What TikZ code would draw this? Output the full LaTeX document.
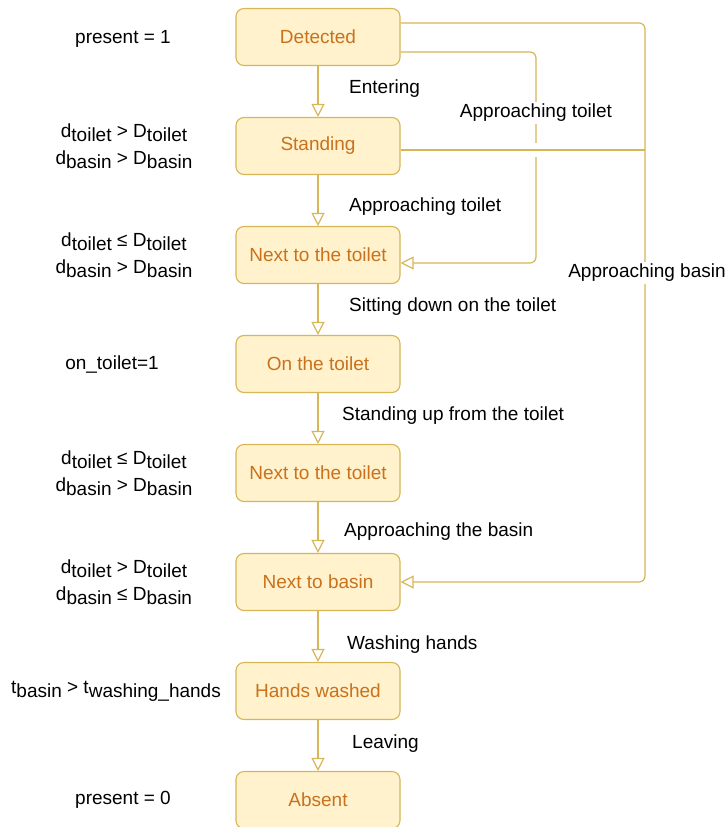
\documentclass[tikz,border=0pt]{standalone}
\usepackage{fontspec}
\setmainfont{Liberation Sans}
\usetikzlibrary{arrows.meta,calc}
\definecolor{boxfill}{HTML}{FFF2CC}
\definecolor{boxline}{HTML}{D6B656}
\definecolor{boxtext}{HTML}{C9711D}
\newcommand{\sbx}[1]{\raisebox{-4pt}{#1}}
\begin{document}
\begin{tikzpicture}[x=1pt,y=-1pt,
  every node/.style={font=\fontsize{19}{27}\selectfont, inner sep=1pt},
  state/.style={draw=boxline, fill=boxfill, line width=1.1pt, rounded corners=8pt,
    minimum width=164pt, minimum height=57pt, text=boxtext},
  edge/.style={draw=boxline, line width=1.2pt, rounded corners=6pt,
    -{Triangle[open, length=13pt, width=13pt, line width=1.2pt]}},
  plain/.style={draw=boxline, line width=1.2pt, rounded corners=6pt},
  cond/.style={align=center, text=black},
  lbl/.style={anchor=west, text=black}]
\useasboundingbox (0,0) rectangle (727,827);

% states
\node[state] (det) at (318,37) {Detected};
\node[state] (std) at (318,146) {Standing};
\node[state] (nt1) at (318,255) {Next to the toilet};
\node[state] (ont) at (318,364) {On the toilet};
\node[state] (nt2) at (318,473) {Next to the toilet};
\node[state] (nb)  at (318,582) {Next to basin};
\node[state] (hw)  at (318,691) {Hands washed};
\node[state] (abs) at (318,800) {Absent};

% conditions
\node[cond] (c1) at (123,39) {present = 1};
\node[cond] (c2) at (124,146) {d\sbx{toilet} > D\sbx{toilet}\\d\sbx{basin} > D\sbx{basin}};
\node[cond] (c3) at (124,255) {d\sbx{toilet} ≤ D\sbx{toilet}\\d\sbx{basin} > D\sbx{basin}};
\node[cond] (c4) at (112,364) {on\_toilet=1};
\node[cond] (c5) at (124,473) {d\sbx{toilet} ≤ D\sbx{toilet}\\d\sbx{basin} > D\sbx{basin}};
\node[cond] (c6) at (124,582) {d\sbx{toilet} > D\sbx{toilet}\\d\sbx{basin} ≤ D\sbx{basin}};
\node[cond] (c7) at (116,691) {t\sbx{basin} > t\sbx{washing\_hands}};
\node[cond] (c8) at (123,800) {present = 0};

% vertical transitions
\draw[edge] (det) -- (std);
\draw[edge] (std) -- (nt1);
\draw[edge] (nt1) -- (ont);
\draw[edge] (ont) -- (nt2);
\draw[edge] (nt2) -- (nb);
\draw[edge] (nb) -- (hw);
\draw[edge] (hw) -- (abs);

\node[lbl] (l1) at (348,89) {Entering};
\node[lbl] (l2) at (348,207) {Approaching toilet};
\node[lbl] (l3) at (348,307) {Sitting down on the toilet};
\node[lbl] (l4) at (341,416) {Standing up from the toilet};
\node[lbl] (l5) at (343,532) {Approaching the basin};
\node[lbl] (l6) at (346,645) {Washing hands};
\node[lbl] (l7) at (351,744) {Leaving};

% side transitions
\coordinate (R) at (645,0);
\coordinate (M) at (536,0);
\coordinate (dA) at ($(det.east)+(0,-14)$);
\coordinate (dB) at ($(det.east)+(0,15)$);
\coordinate (sA) at ($(std.east)+(0,4)$);
\coordinate (tA) at ($(nt1.east)+(0,8)$);

\draw[edge] (dA) -| (R |- nb.east) -- (nb.east);
\draw[edge] (dB) -| (M |- tA) -- (tA);
\fill[white] (532,143) rectangle (540,157);
\draw[plain] (sA) -- (R |- sA);

\node[fill=white, text=black, inner sep=2pt] (l8) at (536,113) {Approaching toilet};
\node[fill=white, text=black, inner sep=2pt] (l9) at (647,273) {Approaching basin};
\end{tikzpicture}
\end{document}
